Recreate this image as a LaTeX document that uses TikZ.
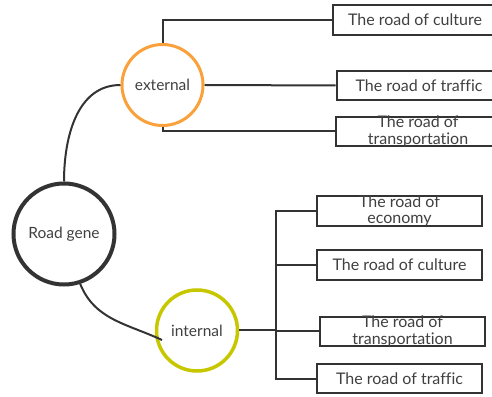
\documentclass[tikz,border=0pt]{standalone}
\usepackage{fontspec}
\setmainfont[Ligatures=NoCommon]{Lato}
\begin{document}
\begin{tikzpicture}[x=1pt,y=1pt,
    hub/.style={circle,draw,line width=3pt,inner sep=0pt,minimum size=81pt,text=kText,font=\fontsize{15.5}{17}\selectfont},
    leaf/.style={rectangle,draw=kLine,line width=2pt,minimum width=165pt,minimum height=29.5pt,inner sep=0pt,text=kText,font=\fontsize{16}{16.5}\selectfont},
    lbl/.style={align=center,text=kText,font=\fontsize{16}{16.5}\selectfont},
    link/.style={draw=kLine,line width=2pt}]
  % colors
  \definecolor{kLine}{rgb}{0.2,0.2,0.2}
  \definecolor{kText}{rgb}{0.25,0.25,0.25}
  \definecolor{kOrange}{rgb}{0.98,0.63,0.23}
  \definecolor{kOlive}{rgb}{0.78,0.78,0.0}
  \useasboundingbox (0,0) rectangle (492,396);

  % hubs
  \node[hub,draw=kLine,line width=4pt,minimum size=101pt] (gene) at (64,162) {Road gene};
  \node[hub,draw=kOrange] (ext) at (162.5,311) {external};
  \node[hub,draw=kOlive,line width=3.5pt] (int) at (197,65.5) {internal};

  % external roads
  \node[leaf] (e1) at (415,376) {The road of culture};
  \node[leaf] (e2) at (419,310.5) {The road of traffic};
  \node[leaf,label={[lbl]center:The road of\\transportation}] (e3) at (418,264.5) {};

  % internal roads
  \node[leaf,label={[lbl]center:The road of\\economy}] (i1) at (399.5,185) {};
  \node[leaf] (i2) at (399.5,131) {The road of culture};
  \node[leaf,label={[lbl]center:The road of\\transportation}] (i3) at (402.5,64.5) {};
  \node[leaf] (i4) at (399.5,17.5) {The road of traffic};

  % links
  \coordinate (intin) at (162,56);
  \coordinate (fork) at (276,65.5);
  \path[link] (gene.north) to[out=90,in=180] (ext.west);
  \path[link] (gene.-72) to[out=-68,in=155] (intin);
  \path[link] (ext.north) |- (e1.west);
  \path[link] (ext.east) -- (e2.west);
  \path[link] (ext.south) |- (e3.west);
  \path[link] (int.east) -- (fork);
  \foreach \b in {i1,i2,i3,i4} {
    \path[link] (fork) |- (\b.west);
  };
\end{tikzpicture}
\end{document}
